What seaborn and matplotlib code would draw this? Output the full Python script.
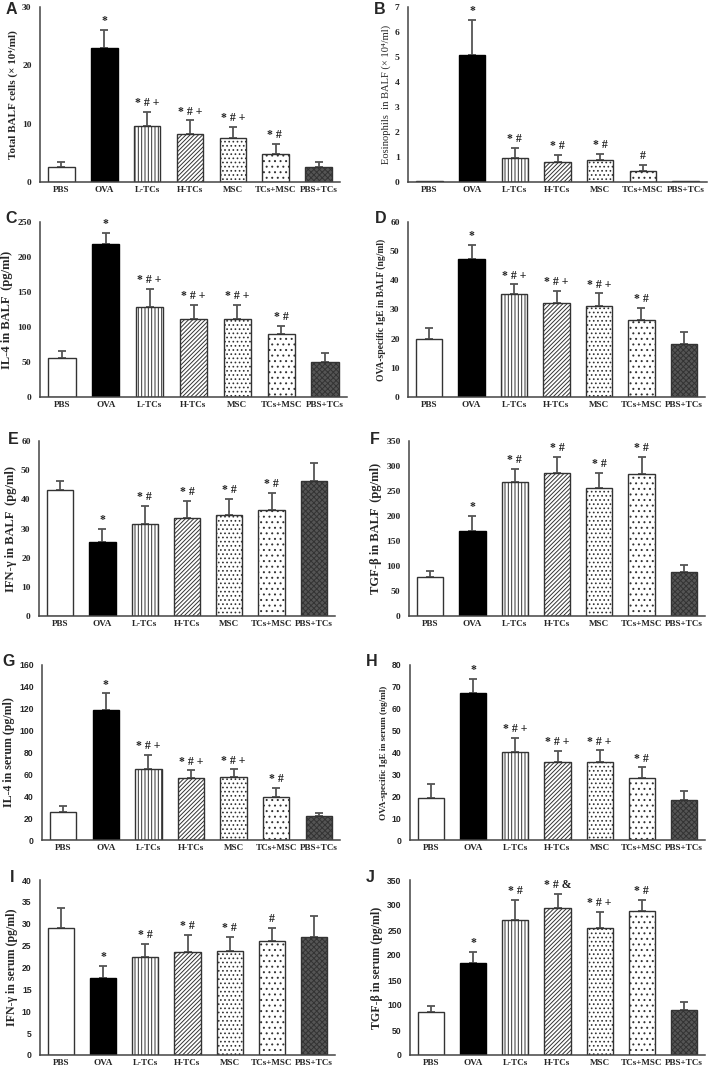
import numpy as np
import pandas as pd
import matplotlib
matplotlib.use("Agg")
import matplotlib.pyplot as plt
import seaborn as sns

# ---------------- data ----------------
groups = ["PBS", "OVA", "L-TCs", "H-TCs", "MSC", "TCs+MSC", "PBS+TCs"]

a_mean = [2.6, 23.0, 9.6, 8.2, 7.5, 4.8, 2.6]
a_err = [0.9, 3.1, 2.4, 2.35, 2.0, 1.7, 0.9]
a_sig = ["", "*", "* # +", "* # +", "* # +", "* # ", ""]

b_mean = [0.03, 5.1, 0.95, 0.82, 0.87, 0.45, 0.03]
b_err = [0.0, 1.39, 0.40, 0.25, 0.25, 0.23, 0.0]
b_sig = ["", "*", "* #", "* #", "* #", "#", ""]

c_mean = [55.5, 219, 129, 112, 112, 90.5, 50]
c_err = [10.5, 15, 26, 20, 20, 11.5, 13.5]
c_sig = ["", "*", "* # +", "* # +", "* # +", "* #", ""]

d_mean = [19.8, 47.2, 35.2, 32.1, 31.2, 26.3, 18.3]
d_err = [3.8, 5.0, 3.4, 4.3, 4.3, 4.3, 4.0]
d_sig = ["", "*", "* # +", "* # +", "* # +", "* #", ""]

e_mean = [43.1, 25.4, 31.7, 33.6, 34.5, 36.4, 46.4]
e_err = [3.2, 4.6, 6.0, 6.0, 5.6, 5.8, 5.9]
e_sig = ["", "*", "* #", "* #", "* #", "* #", ""]

f_mean = [79, 170, 268, 286, 256, 285, 89]
f_err = [12, 30, 27, 33, 31, 33, 13]
f_sig = ["", "*", "* #", "* #", "* #", "* #", ""]

g_mean = [26, 119, 65, 57, 58, 39.6, 21.6]
g_err = [5, 15, 13, 6.7, 6.6, 8.4, 3.4]
g_sig = ["", "*", "* # +", "* # +", "* # +", "* #", ""]

h_mean = [19.2, 67.4, 40.1, 35.8, 35.5, 28.2, 18.4]
h_err = [6.6, 6.4, 6.7, 5.0, 5.5, 5.0, 4.1]
h_sig = ["", "*", "* # +", "* # +", "* # +", "* #", ""]

i_mean = [29.0, 17.6, 22.5, 23.6, 23.8, 26.1, 27.0]
i_err = [4.5, 2.8, 2.9, 3.8, 3.2, 3.0, 4.8]
i_sig = ["", "*", "* #", "* #", "* #", "#", ""]

j_mean = [87, 185, 270, 295, 255, 288, 91]
j_err = [11, 21, 41, 28, 32, 23, 15]
j_sig = ["", "*", "* #", "* # &", "* # +", "* #", ""]

ylabels = {
    "A": "Total BALF cells (\u00d7 10\u2074/ml)",
    "B": "Eosinophils  in BALF (\u00d7 10\u2074/ml)",
    "C": "IL-4 in BALF  (pg/ml)",
    "D": "OVA-specific IgE in BALF (ng/ml)",
    "E": "IFN-\u03b3 in BALF  (pg/ml)",
    "F": "TGF-\u03b2 in BALF  (pg/ml)",
    "G": "IL-4 in serum (pg/ml)",
    "H": "OVA-specific IgE in serum (ng/ml)",
    "I": "IFN-\u03b3 in serum (pg/ml)",
    "J": "TGF-\u03b2 in serum (pg/ml)",
}
yticks = {
    "A": [0, 10, 20, 30],
    "B": [0, 1, 2, 3, 4, 5, 6, 7],
    "C": [0, 50, 100, 150, 200, 250],
    "D": [0, 10, 20, 30, 40, 50, 60],
    "E": [0, 10, 20, 30, 40, 50, 60],
    "F": [0, 50, 100, 150, 200, 250, 300, 350],
    "G": [0, 20, 40, 60, 80, 100, 120, 140, 160],
    "H": [0, 10, 20, 30, 40, 50, 60, 70, 80],
    "I": [0, 5, 10, 15, 20, 25, 30, 35, 40],
    "J": [0, 50, 100, 150, 200, 250, 300, 350],
}

panels = [
    ("A", a_mean, a_err, a_sig, (40, 7, 340, 182), 8.0, "bold"),
    ("B", b_mean, b_err, b_sig, (408, 7, 707, 182), 7.6, "normal"),
    ("C", c_mean, c_err, c_sig, (40, 222, 347, 397), 9.0, "bold"),
    ("D", d_mean, d_err, d_sig, (408, 222, 705, 397), 6.9, "bold"),
    ("E", e_mean, e_err, e_sig, (39, 441, 335, 616), 9.0, "bold"),
    ("F", f_mean, f_err, f_sig, (409, 441, 705, 616), 9.0, "bold"),
    ("G", g_mean, g_err, g_sig, (42, 665, 340, 840), 8.6, "bold"),
    ("H", h_mean, h_err, h_sig, (410, 665, 705, 840), 6.6, "bold"),
    ("I", i_mean, i_err, i_sig, (40, 880, 335, 1055), 8.6, "bold"),
    ("J", j_mean, j_err, j_sig, (410, 880, 705, 1055), 8.6, "bold"),
]
letter_pos = {"A": (11, 10), "B": (380, 10), "C": (11, 218), "D": (381, 218),
              "E": (13, 440), "F": (375, 440), "G": (9, 662), "H": (372, 662),
              "I": (12, 878), "J": (370, 878)}

# ---------------- styles ----------------
sns.set_style("white")
plt.rcParams["font.family"] = ["Liberation Serif", "DejaVu Serif"]
plt.rcParams["hatch.linewidth"] = 0.7

faces = ["white", "black", "white", "white", "white", "white", "#555555"]
hatches = [None, None, "|||||", "////////", "....", "...", "xxxxxx"]
edge = "#333333"

W, H = 709, 1069
fig = plt.figure(figsize=(W / 100, H / 100), dpi=100)

for key, mean, err, sig, (l, t, r, b), ylsize, ylweight in panels:
    ax = fig.add_axes([l / W, 1 - b / H, (r - l) / W, (b - t) / H])
    df = pd.DataFrame({"group": groups, "value": mean})
    sns.barplot(data=df, x="group", y="value", hue="group", order=groups,
                hue_order=groups, palette=dict(zip(groups, faces)),
                width=0.62, errorbar=None, legend=False, ax=ax,
                edgecolor=edge, linewidth=1.0)
    for p in ax.patches:
        idx = int(round(p.get_x() + p.get_width() / 2))
        p.set_facecolor(faces[idx])
        p.set_edgecolor(edge if idx != 1 else "black")
        if hatches[idx]:
            p.set_hatch(hatches[idx])
        p.set_zorder(2)
    m = np.array(mean, float)
    e = np.array(err, float)
    xs = np.arange(len(groups))
    mask = e > 0
    ax.errorbar(xs[mask], m[mask], yerr=[np.zeros(mask.sum()), e[mask]],
                fmt="none", ecolor="#555555", elinewidth=1.3, capsize=3.2,
                capthick=1.3, zorder=1)
    for i, s in enumerate(sig):
        if s:
            ax.annotate(s, xy=(i, m[i] + e[i]), xytext=(0, 2),
                        textcoords="offset points", ha="center", va="bottom",
                        fontsize=8.5, fontweight="bold", color="#222222")
    yt = yticks[key]
    ax.set_ylim(0, yt[-1])
    ax.set_xlim(-0.5, 6.5)
    ax.set_yticks(yt)
    if key in "GHIJ":
        tickfam, tsize = ["Liberation Sans", "DejaVu Sans"], 6.2
    else:
        tickfam, tsize = ["Liberation Serif", "DejaVu Serif"], 6.8
    ax.set_yticklabels([str(v) for v in yt], fontsize=tsize, fontweight="bold",
                       family=tickfam)
    ax.set_xticks(xs)
    ax.set_xticklabels(groups, fontsize=6.6, fontweight="bold")
    ax.tick_params(axis="x", length=0, pad=3)
    ax.tick_params(axis="y", length=3, width=1, color="#444444", pad=3)
    ax.set_xlabel("")
    ax.set_ylabel(ylabels[key], fontsize=ylsize, fontweight=ylweight, labelpad=3)
    for side in ["top", "right"]:
        ax.spines[side].set_visible(False)
    for side in ["left", "bottom"]:
        ax.spines[side].set_color("#444444")
        ax.spines[side].set_linewidth(1.1)
    lx, ly = letter_pos[key]
    fig.text(lx / W, 1 - ly / H, key, fontsize=11.5, fontweight="bold",
             family=["Liberation Sans", "DejaVu Sans"], ha="center", va="center")

fig.savefig("out.png", dpi=100)
